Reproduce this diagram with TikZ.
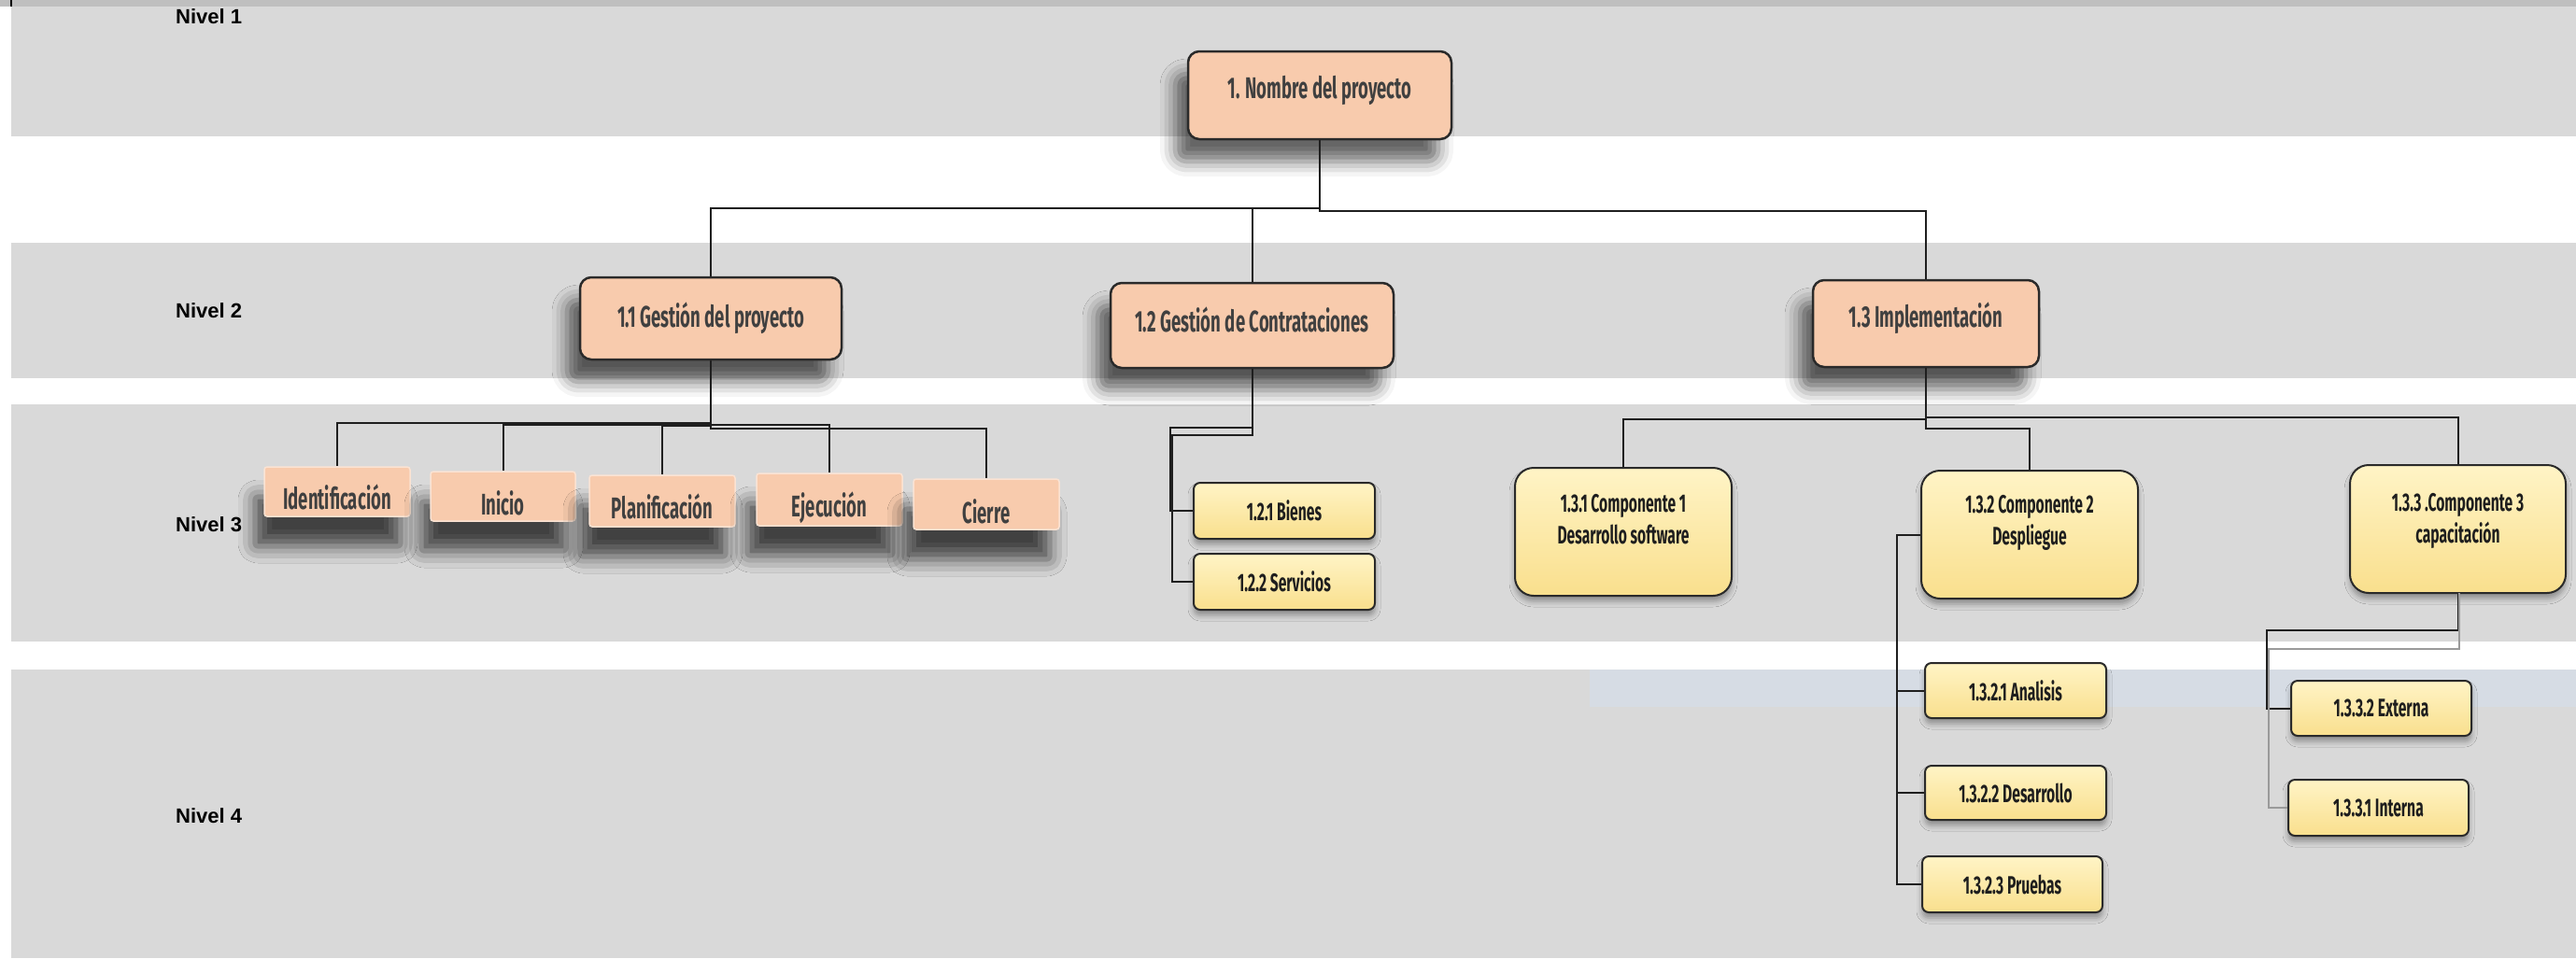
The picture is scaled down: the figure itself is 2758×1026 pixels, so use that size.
\documentclass[tikz,border=0pt]{standalone}
\usepackage{fontspec}
\setmainfont{Liberation Sans}
\newfontfamily\wbsfont{Fira Sans}[FakeStretch=0.58]
\usetikzlibrary{shadows.blur}

\definecolor{band}{HTML}{D9D9D9}
\definecolor{topstrip}{HTML}{BFBFBF}
\definecolor{blueband}{HTML}{D6DCE4}
\definecolor{peach}{HTML}{F8CBAD}
\definecolor{peachedge}{HTML}{FBE3D3}
\definecolor{peachtext}{HTML}{404040}
\definecolor{edge}{HTML}{2A2A2A}
\definecolor{ytop}{HTML}{FFF4C6}
\definecolor{ybot}{HTML}{F9DF8D}
\definecolor{leaftext}{HTML}{1E1E1E}
\definecolor{lineclr}{HTML}{1F1F1F}
\definecolor{lightline}{HTML}{9A9A9A}

\tikzset{
  conn/.style={draw=lineclr, line width=2pt},
  connlight/.style={draw=lightline, line width=1.6pt},
  topbox/.style={rectangle, rounded corners=12pt, draw=edge, line width=2.5pt,
    fill=peach, inner sep=0pt,
    blur shadow={shadow xshift=-14pt, shadow yshift=-24pt,
      shadow blur radius=16pt, shadow opacity=60}},
  softbox/.style={rectangle, rounded corners=3pt, draw=peachedge, line width=1.5pt,
    fill=peach, inner sep=0pt,
    blur shadow={shadow xshift=-10pt, shadow yshift=-32pt,
      shadow blur radius=18pt, shadow opacity=70}},
  leafbox/.style={rectangle, rounded corners=7pt, draw=edge, line width=2pt,
    top color=ytop, bottom color=ybot, inner sep=0pt,
    blur shadow={shadow xshift=0pt, shadow yshift=-6pt,
      shadow blur radius=6pt, shadow opacity=35}},
  compbox/.style={leafbox, rounded corners=20pt},
  peachtxt/.style={font=\wbsfont\bfseries\fontsize{32}{36}\selectfont,
    text=peachtext, inner sep=0pt, text depth=0pt},
  leaftxt/.style={font=\wbsfont\bfseries\fontsize{27}{34}\selectfont,
    text=leaftext, inner sep=0pt, text depth=0pt},
  nivel/.style={font=\bfseries\fontsize{22}{26}\selectfont, anchor=west,
    inner sep=0pt},
}

\begin{document}
\begin{tikzpicture}[x=1pt, y=-1pt]
\useasboundingbox (0,0) rectangle (2758,1026);

% level bands
\fill[topstrip] (0,0) rectangle (2758,7);
\fill[black] (11,0) rectangle (13,7);
\fill[band] (12,7) rectangle (2758,146);
\fill[band] (12,260) rectangle (2758,405);
\fill[band] (12,433) rectangle (2758,687);
\fill[band] (12,717) rectangle (2758,1026);
\fill[blueband] (1702,717) rectangle (2758,757);

% level captions
\node[nivel] (lv1) at (188,18) {Nivel 1};
\node[nivel] (lv2) at (188,333) {Nivel 2};
\node[nivel] (lv3) at (188,562) {Nivel 3};
\node[nivel] (lv4) at (188,874) {Nivel 4};

% level 1 and 2
\node[topbox, minimum width=282pt, minimum height=94pt,
  label={[peachtxt, yshift=9pt, name=n1t]center:1. Nombre del proyecto}]
  (n1) at (1413,102) {};
\node[topbox, minimum width=280pt, minimum height=88pt,
  label={[peachtxt, yshift=4pt, name=g11t]center:1.1 Gestión del proyecto}]
  (g11) at (761,341) {};
\node[topbox, minimum width=303pt, minimum height=91pt,
  label={[peachtxt, yshift=6pt, name=g12t]center:1.2 Gestión de Contrataciones}]
  (g12) at (1340.5,348.5) {};
\node[topbox, minimum width=242pt, minimum height=93pt,
  label={[peachtxt, yshift=9pt, name=g13t]center:1.3 Implementación}]
  (g13) at (2062,346.5) {};

% phases of project management
\node[softbox, minimum width=156pt, minimum height=53pt,
  label={[peachtxt, yshift=-6pt, name=p1t]center:Identificación}]
  (p1) at (361,526.5) {};
\node[softbox, minimum width=155pt, minimum height=53pt,
  label={[peachtxt, yshift=-7pt, name=p2t]center:Inicio}]
  (p2) at (538.5,531.5) {};
\node[softbox, minimum width=156pt, minimum height=55pt,
  label={[peachtxt, yshift=-6pt, name=p3t]center:Planificación}]
  (p3) at (709,536.5) {};
\node[softbox, minimum width=156pt, minimum height=56pt,
  label={[peachtxt, yshift=-5pt, name=p4t]center:Ejecución}]
  (p4) at (888,535) {};
\node[softbox, minimum width=156pt, minimum height=54pt,
  label={[peachtxt, yshift=-8pt, name=p5t]center:Cierre}]
  (p5) at (1056,540) {};

% procurement
\node[leafbox, leaftxt, minimum width=194pt, minimum height=60pt]
  (b1) at (1375,547) {1.2.1 Bienes};
\node[leafbox, leaftxt, minimum width=194pt, minimum height=60pt]
  (b2) at (1375,623) {1.2.2 Servicios};

% components
\node[compbox, minimum width=232pt, minimum height=137pt,
  label={[leaftxt, align=center, yshift=14pt, name=c1t]center:{1.3.1 Componente 1\\Desarrollo software}}]
  (c1) at (1738,569.5) {};
\node[compbox, minimum width=232pt, minimum height=137pt,
  label={[leaftxt, align=center, yshift=16pt, name=c2t]center:{1.3.2 Componente 2\\Despliegue}}]
  (c2) at (2173,572.5) {};
\node[compbox, minimum width=231pt, minimum height=137pt,
  label={[leaftxt, align=center, yshift=12pt, name=c3t]center:{1.3.3 .Componente 3\\capacitación}}]
  (c3) at (2631.5,566.5) {};

% level 4 work packages
\node[leafbox, leaftxt, minimum width=194pt, minimum height=59pt]
  (d1) at (2158,739.5) {1.3.2.1 Analisis};
\node[leafbox, leaftxt, minimum width=194pt, minimum height=58pt]
  (d2) at (2158,849) {1.3.2.2 Desarrollo};
\node[leafbox, leaftxt, minimum width=193pt, minimum height=60pt]
  (d3) at (2154.5,947) {1.3.2.3 Pruebas};
\node[leafbox, leaftxt, minimum width=193pt, minimum height=59pt]
  (e2) at (2549.5,758.5) {1.3.3.2 Externa};
\node[leafbox, leaftxt, minimum width=193pt, minimum height=60pt]
  (e1) at (2546.5,865) {1.3.3.1 Interna};

% connectors: root to level 2
\draw[conn] (n1.south) -- ++(0,73) -| (g11.north);
\draw[conn] (n1.south) -- ++(0,73) -| (g12.north);
\draw[conn] (n1.south) -- ++(0,76) -| (g13.north);

% 1.1 to phases
\draw[conn] (g11.south) -- ++(0,67) -| (p1.north);
\draw[conn] (g11.south) -- ++(0,69) -| (p2.north);
\draw[conn] (g11.south) -- ++(0,70) -| (p3.north);
\draw[conn] (g11.south) -- ++(0,69) -| (p4.north);
\draw[conn] (g11.south) -- ++(0,73) -| (p5.north);

% 1.2 to procurement items
\draw[conn] (g12.south) -- ++(0,63) -- ++(-88,0) |- (b1.west);
\draw[conn] (g12.south) -- ++(0,71) -- ++(-86,0) |- (b2.west);

% 1.3 to components
\draw[conn] (g13.south) -- ++(0,55) -| (c1.north);
\draw[conn] (g13.south) -- ++(0,65) -| (c2.north);
\draw[conn] (g13.south) -- ++(0,53) -| (c3.north);

% component 2 to its work packages
\draw[conn] (c2.west) -- ++(-25,0) |- (d1.west);
\draw[conn] (c2.west) -- ++(-25,0) |- (d2.west);
\draw[conn] (c2.west) -- ++(-25,0) |- (d3.west);

% component 3 to its work packages
\draw[conn] (c3.south) -- ++(0,39) -- ++(-204.5,0) |- (e2.west);
\draw[connlight] (c3.south) -- ++(1.5,0) -- ++(0,59) -- ++(-204,0) |- (e1.west);
\end{tikzpicture}
\end{document}
